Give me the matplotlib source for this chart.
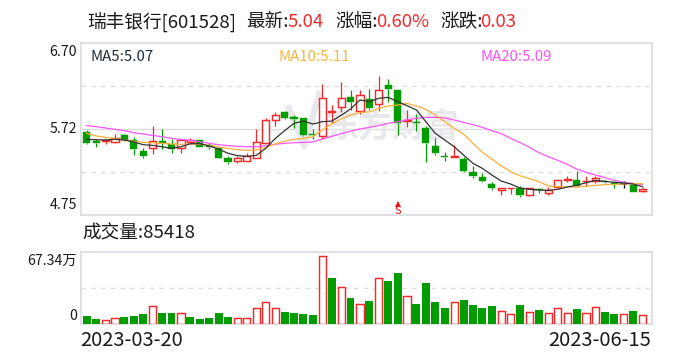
import numpy as np
import matplotlib
matplotlib.use("Agg")
import matplotlib.pyplot as plt
from matplotlib.transforms import blended_transform_factory

plt.rcParams['font.family'] = ['Noto Sans CJK SC', 'DejaVu Sans']

# ---- data ----
highs = [5.71,5.61,5.61,5.67,5.67,5.63,5.51,5.76,5.72,5.61,5.61,5.62,5.60,5.56,5.52,5.42,5.42,5.45,5.72,5.85,
         5.91,5.93,5.88,5.85,5.72,6.23,5.99,6.25,6.16,6.16,6.18,6.32,6.29,6.16,5.94,5.89,5.76,5.62,5.46,5.54,
         5.41,5.30,5.23,5.12,5.05,5.06,5.08,5.05,5.06,5.07,5.15,5.19,5.25,5.19,5.19,5.15,5.14,5.14,5.10,5.07]
lows = [5.55,5.52,5.55,5.56,5.59,5.43,5.39,5.44,5.50,5.45,5.45,5.55,5.52,5.50,5.39,5.33,5.34,5.36,5.40,5.56,
        5.76,5.83,5.73,5.64,5.61,5.61,5.79,5.91,5.94,5.89,5.94,5.93,6.03,5.65,5.75,5.70,5.35,5.43,5.36,5.41,
        5.24,5.17,5.12,5.03,4.98,4.99,4.95,4.96,5.00,4.98,5.04,5.12,5.07,5.08,5.11,5.11,5.06,5.06,5.01,5.01]
opens = [5.69,5.59,5.59,5.58,5.65,5.60,5.47,5.51,5.59,5.55,5.51,5.58,5.60,5.54,5.51,5.39,5.36,5.36,5.40,5.56,
         5.82,5.91,5.86,5.85,5.67,5.64,5.92,5.97,6.08,5.93,6.06,6.01,6.22,6.16,5.81,5.80,5.73,5.53,5.42,5.41,
         5.38,5.24,5.18,5.10,5.03,5.05,5.05,4.98,5.04,5.00,5.07,5.15,5.15,5.13,5.13,5.14,5.11,5.10,5.09,5.02]
closes = [5.56,5.56,5.60,5.62,5.60,5.50,5.42,5.59,5.56,5.50,5.60,5.60,5.52,5.52,5.40,5.35,5.39,5.42,5.58,5.82,
          5.88,5.85,5.83,5.65,5.65,6.07,5.93,6.07,6.03,6.11,5.96,6.16,6.17,5.79,5.82,5.79,5.56,5.45,5.41,5.42,
          5.25,5.19,5.14,5.06,5.05,5.06,4.98,5.05,5.03,5.03,5.15,5.16,5.08,5.14,5.17,5.12,5.10,5.10,5.01,5.04]
ma5 = [5.605,5.601,5.598,5.605,5.598,5.575,5.545,5.537,5.522,5.503,5.522,5.556,5.556,5.530,5.496,5.447,5.421,5.413,5.424,5.503,
       5.613,5.703,5.786,5.812,5.778,5.805,5.812,5.876,5.948,6.050,6.031,6.069,6.080,6.031,5.986,5.937,5.805,5.673,5.598,5.522,
       5.428,5.334,5.277,5.202,5.134,5.100,5.055,5.040,5.032,5.029,5.040,5.066,5.085,5.115,5.142,5.130,5.119,5.112,5.100,5.070]
ma10 = [5.673,5.643,5.628,5.613,5.598,5.583,5.571,5.567,5.560,5.552,5.549,5.552,5.549,5.537,5.518,5.503,5.488,5.481,5.485,5.515,
        5.552,5.586,5.605,5.616,5.635,5.711,5.778,5.835,5.880,5.910,5.914,5.956,5.982,5.993,6.012,5.982,5.944,5.880,5.805,5.729,
        5.665,5.560,5.458,5.383,5.307,5.240,5.194,5.160,5.127,5.078,5.070,5.066,5.066,5.074,5.085,5.093,5.096,5.100,5.104,5.104]
ma20 = [5.760,5.748,5.733,5.718,5.703,5.680,5.665,5.650,5.635,5.616,5.605,5.594,5.579,5.560,5.545,5.534,5.526,5.522,5.522,5.534,
        5.549,5.560,5.567,5.571,5.575,5.609,5.639,5.669,5.699,5.722,5.741,5.760,5.786,5.805,5.824,5.843,5.854,5.854,5.846,5.824,
        5.797,5.771,5.741,5.703,5.669,5.616,5.567,5.515,5.454,5.409,5.368,5.323,5.270,5.232,5.202,5.172,5.142,5.119,5.108,5.093]
volumes = [7.3,4.3,4.0,6.0,6.3,7.3,9.3,18.0,10.3,10.3,11.0,6.3,4.3,5.3,10.3,6.3,6.0,6.0,16.0,22.0,
           16.0,11.3,10.3,9.3,8.3,67.34,45.3,37.0,25.3,20.0,22.3,46.0,42.3,50.3,28.0,19.3,40.3,21.3,15.3,22.0,
           23.3,18.3,15.3,17.3,13.0,10.0,18.3,12.0,13.3,11.0,16.0,11.0,14.3,11.0,17.0,11.3,9.3,10.0,12.3,8.54]
volume_up = "GGRRGGGRGGRGGGGGRRRRRGGGGRGRGRGRGGRGGGGRGGGGRRGRGRRRGRRGGRGR"
y_ticks = [6.70, 5.72, 4.75]
vol_top_label = "67.34万"
dates = ["2023-03-20", "2023-06-15"]
sell_index = 33
title_parts = [("瑞丰银行[601528]", 87, "#1a1a1a"), ("最新:", 246, "#1a1a1a"), ("5.04", 287, "#f52a2a"),
               ("涨幅:", 335, "#1a1a1a"), ("0.60%", 376, "#f52a2a"), ("涨跌:", 440, "#1a1a1a"), ("0.03", 480, "#f52a2a")]
ma_labels = [("MA5:5.07", 90, "#1f2d3d"), ("MA10:5.11", 279, "#f9b53a"), ("MA20:5.09", 480, "#ff50ff")]

# ---- layout ----
W, H = 688, 360
RED, GREEN = "#f42a2a", "#009c00"
FRAME = "#d8d8de"
fig = plt.figure(figsize=(W / 100, H / 100), dpi=100, facecolor="white")

def axes_px(x0, y0, x1, y1):
    return fig.add_axes([x0 / W, 1 - y1 / H, (x1 - x0) / W, (y1 - y0) / H])

def ftext(x, y, s, **kw):
    kw.setdefault("va", "center")
    return fig.text(x / W, 1 - y / H, s, **kw)

ax = axes_px(80.5, 42.5, 651.5, 215)
vx = axes_px(80.5, 251.5, 651.5, 323.5)
n = len(closes)
xs = np.arange(n)
xlim = (-0.66, 59.95)
for a in (ax, vx):
    a.set_xlim(*xlim)
    a.set_xticks([])
    a.set_yticks([])
    for s in a.spines.values():
        s.set_color(FRAME)
        s.set_linewidth(1.1)
ax.set_ylim(4.75, 6.70)
vx.set_ylim(0, 72.0)

# grid
ax.axhline(5.72, color="#dcdcdc", lw=1.0, zorder=1)
for p in (6.2075, 5.2325):
    ax.axhline(p, color="#dedede", lw=1.0, ls=(0, (3.5, 3.5)), zorder=1)
vx.axhline(36.0, color="#dedede", lw=1.0, ls=(0, (3.5, 3.5)), zorder=1)

# watermark
WM = "#e8e8ec"
ax.text(0.545, 0.505, "东方财富", transform=ax.transAxes, fontsize=24, fontweight="bold",
        color=WM, ha="center", va="center", zorder=1.5)
ax.plot([0.365, 0.392, 0.418], [0.62, 0.40, 0.70], transform=ax.transAxes, color=WM, lw=4.5, zorder=1.5)

# candles
W_BODY = 0.76
for i in xs:
    o, c, h, l = opens[i], closes[i], highs[i], lows[i]
    col = RED if c > o else (GREEN if c < o else "#000000")
    top, bot = max(o, c), min(o, c)
    ax.vlines(i, top, h, color=col, lw=0.9, zorder=3)
    ax.vlines(i, l, bot, color=col, lw=0.9, zorder=3)
    if c > o:
        ax.bar(i, top - bot, W_BODY, bot, facecolor="white", edgecolor=col, lw=1.05, zorder=3)
    elif c < o:
        ax.bar(i, top - bot, W_BODY, bot, facecolor=col, edgecolor=col, lw=0.3, zorder=3)
    else:
        ax.hlines(c, i - W_BODY / 2, i + W_BODY / 2, color=col, lw=1.1, zorder=3)

# moving averages
ax.plot(xs, ma20, color="#ff55ff", lw=0.9, zorder=4)
ax.plot(xs, ma10, color="#f9b03a", lw=0.9, zorder=5)
ax.plot(xs, ma5, color="#333333", lw=0.9, zorder=6)

# sell marker
tr = blended_transform_factory(ax.transData, ax.transAxes)
ax.plot([sell_index], [0.062], marker="^", ms=4.5, color="#f01010", mew=0, transform=tr, zorder=7)
ax.text(sell_index, 0.024, "S", transform=tr, color="#f01010", fontsize=8, ha="center", va="center", zorder=7)

# volume
for i in xs:
    if volume_up[i] == "R":
        vx.bar(i, volumes[i], 0.76, facecolor="white", edgecolor=RED, lw=1.05, zorder=3)
    else:
        vx.bar(i, volumes[i], 0.84, facecolor=GREEN, edgecolor="none", zorder=3)

# text
for s, x, c in title_parts:
    ftext(x, 22, s, color=c, fontsize=13.4, ha="left")
for s, x, c in ma_labels:
    ftext(x, 57, s, color=c, fontsize=10.8, ha="left")
for v, y in zip(y_ticks, (52, 129, 205)):
    ftext(77, y, f"{v:.2f}", color="#1a1a1a", fontsize=10.2, ha="right")
ftext(77, 261, vol_top_label, color="#1a1a1a", fontsize=10.2, ha="right")
ftext(77, 316, "0", color="#1a1a1a", fontsize=10.2, ha="right")
ftext(82, 233, "成交量:85418", color="#1a1a1a", fontsize=13.4, ha="left")
ftext(80, 341, dates[0], color="#1a1a1a", fontsize=14.5, ha="left")
ftext(651, 341, dates[1], color="#1a1a1a", fontsize=14.5, ha="right")

fig.savefig("out.png", dpi=100, facecolor="white")
